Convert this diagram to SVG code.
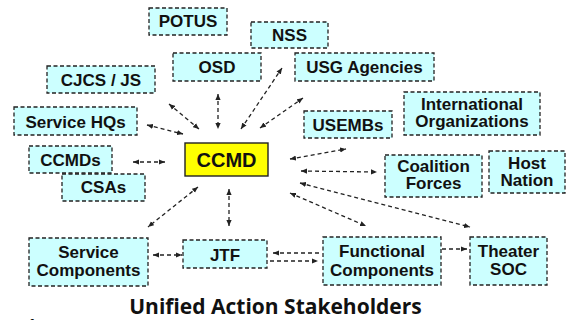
<svg xmlns="http://www.w3.org/2000/svg" width="566" height="320" viewBox="0 0 566 320">
  <style>
    .box { fill: #ccffff; stroke: #222; stroke-width: 1.3; stroke-dasharray: 4 2.5; }
    .core { fill: #ffff00; stroke: #222; stroke-width: 1.4; }
    .lbl { font-family: "Liberation Sans", Arial, sans-serif; font-weight: bold; font-size: 17px; text-anchor: middle; fill: #111; }
    .big { font-size: 20px; }
    .link { fill: none; stroke: #222; stroke-width: 1.3; stroke-dasharray: 4 3; }
    .both { marker-start: url(#ah); marker-end: url(#ah); }
    .fwd { marker-end: url(#ah); }
    .back { marker-start: url(#ah); }
    .title { font-family: "Open Sans", "Liberation Sans", sans-serif; font-weight: bold; font-size: 21px; text-anchor: middle; fill: #111; }
  </style>
  <defs>
    <marker id="ah" viewBox="0 0 6 6" refX="6" refY="3" markerWidth="6" markerHeight="6" markerUnits="userSpaceOnUse" orient="auto-start-reverse">
      <path d="M0,0.4 L6,3 L0,5.6 z" fill="#222"/>
    </marker>
  </defs>

  <rect width="566" height="320" fill="#ffffff"/>

  <!-- connectors -->
  <g id="connectors">
    <line class="link both" x1="169" y1="104" x2="199" y2="129"/>
    <line class="link both" x1="147" y1="125" x2="183" y2="134"/>
    <line class="link both" x1="218" y1="94" x2="218" y2="129"/>
    <line class="link both" x1="241" y1="129" x2="282" y2="68"/>
    <line class="link both" x1="260" y1="128" x2="303" y2="98"/>
    <line class="link both" x1="290" y1="159" x2="346" y2="149"/>
    <line class="link both" x1="301" y1="171" x2="377" y2="172"/>
    <line class="link both" x1="300" y1="183" x2="470" y2="227"/>
    <line class="link both" x1="290" y1="193" x2="366" y2="226"/>
    <line class="link both" x1="198" y1="187" x2="148" y2="227"/>
    <line class="link both" x1="229" y1="189" x2="229" y2="226"/>
    <line class="link both" x1="133" y1="162" x2="165" y2="162"/>
    <line class="link both" x1="153" y1="255" x2="182" y2="255"/>
    <line class="link back" x1="273" y1="253" x2="321" y2="253"/>
    <line class="link fwd" x1="270" y1="261" x2="318" y2="261"/>
    <line class="link fwd" x1="442" y1="249" x2="467" y2="249"/>
  </g>

  <!-- nodes -->
  <g id="potus"><rect class="box" x="149" y="8" width="78" height="27"/><text class="lbl" x="188" y="27">POTUS</text></g>
  <g id="nss"><rect class="box" x="251" y="22" width="77" height="26"/><text class="lbl" x="289.5" y="41">NSS</text></g>
  <g id="osd"><rect class="box" x="173" y="53" width="88" height="28"/><text class="lbl" x="217" y="73">OSD</text></g>
  <g id="usg-agencies"><rect class="box" x="295" y="53" width="139" height="28"/><text class="lbl" x="364.5" y="73">USG Agencies</text></g>
  <g id="cjcs-js"><rect class="box" x="47" y="66" width="108" height="27"/><text class="lbl" x="101" y="86">CJCS / JS</text></g>
  <g id="service-hqs"><rect class="box" x="14" y="107" width="123" height="28"/><text class="lbl" x="75.5" y="127.5">Service HQs</text></g>
  <g id="intl-orgs"><rect class="box" x="404" y="92" width="136" height="43"/><text class="lbl" x="472" y="109.5">International</text><text class="lbl" x="472" y="127">Organizations</text></g>
  <g id="usembs"><rect class="box" x="304" y="111" width="88" height="27"/><text class="lbl" x="348" y="130.5">USEMBs</text></g>
  <g id="ccmd"><rect class="core" x="185" y="143" width="83" height="33"/><text class="lbl big" x="226.5" y="166.5">CCMD</text></g>
  <g id="ccmds"><rect class="box" x="29" y="146" width="83" height="27"/><text class="lbl" x="70.5" y="166">CCMDs</text></g>
  <g id="csas"><rect class="box" x="62" y="174" width="83" height="27"/><text class="lbl" x="103.5" y="193">CSAs</text></g>
  <g id="coalition-forces"><rect class="box" x="385" y="155" width="97" height="42"/><text class="lbl" x="433.5" y="171.5">Coalition</text><text class="lbl" x="433.5" y="189">Forces</text></g>
  <g id="host-nation"><rect class="box" x="489" y="151" width="76" height="42"/><text class="lbl" x="527" y="168.5">Host</text><text class="lbl" x="527" y="186">Nation</text></g>
  <g id="service-components"><rect class="box" x="29" y="238" width="119" height="48"/><text class="lbl" x="88.5" y="258">Service</text><text class="lbl" x="88.5" y="276">Components</text></g>
  <g id="jtf"><rect class="box" x="183" y="240" width="84" height="28"/><text class="lbl" x="225" y="261">JTF</text></g>
  <g id="functional-components"><rect class="box" x="323" y="237" width="118" height="48"/><text class="lbl" x="382" y="257">Functional</text><text class="lbl" x="382" y="276">Components</text></g>
  <g id="theater-soc"><rect class="box" x="470" y="237" width="77" height="48"/><text class="lbl" x="508.5" y="257">Theater</text><text class="lbl" x="508.5" y="275">SOC</text></g>

  <!-- caption -->
  <text class="title" x="275.5" y="314">Unified Action Stakeholders</text>
  <text x="27" y="331" font-family="Open Sans, sans-serif" font-weight="bold" font-size="16" fill="#111">1</text>
</svg>
